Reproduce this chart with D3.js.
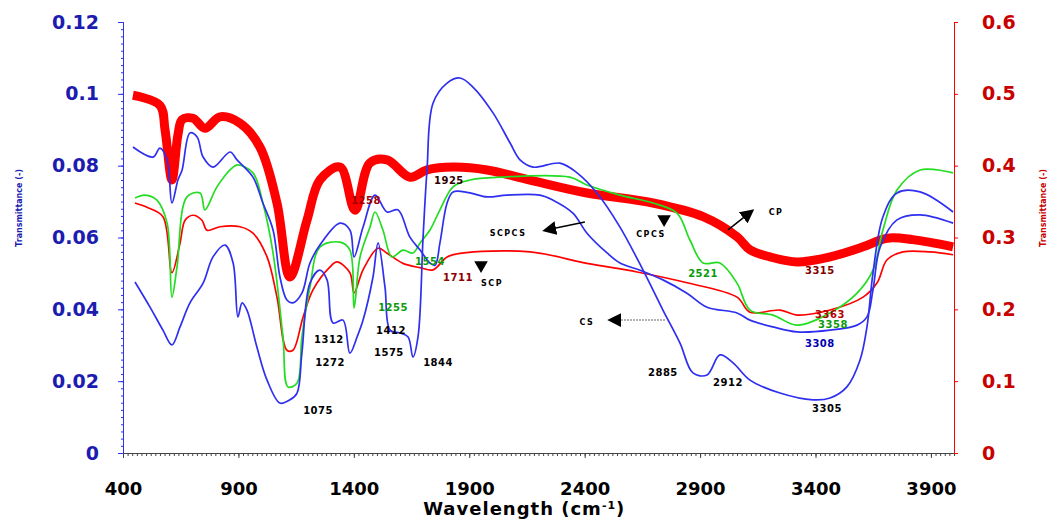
<!DOCTYPE html>
<html>
<head>
<meta charset="utf-8">
<script src="https://cdn.jsdelivr.net/npm/d3@7"></script>
<style>
  body { margin: 0; background: #fff; }
  text { font-family: "DejaVu Sans", "Liberation Sans", Arial, sans-serif; font-weight: bold; }
</style>
</head>
<body>
<div id="graph"></div>
<script>
const width = 1053;
const height = 520;
const margin = { top: 22, right: 99, bottom: 67, left: 123 };
const innerW = width - margin.left - margin.right;
const innerH = height - margin.top - margin.bottom;

// wavenumber ticks
const xTicks = [400, 900, 1400, 1900, 2400, 2900, 3400, 3900];
const leftTicks = [0, 0.02, 0.04, 0.06, 0.08, 0.1, 0.12];
const rightTicks = [0, 0.1, 0.2, 0.3, 0.4, 0.5, 0.6];

// thick red (CP) - right axis
const cp = [[443,0.498],[560,0.484],[582,0.450],[612,0.380],[638,0.443],[656,0.464],[703,0.466],[755,0.452],
  [820,0.468],[907,0.459],[993,0.426],[1067,0.348],[1123,0.245],[1197,0.324],[1253,0.380],[1340,0.398],
  [1405,0.338],[1470,0.404],[1544,0.408],[1643,0.384],[1717,0.394],[1830,0.398],[1977,0.394],[2163,0.380],
  [2410,0.362],[2696,0.348],[2913,0.329],[3060,0.301],[3116,0.283],[3203,0.273],[3320,0.266],[3463,0.273],
  [3606,0.287],[3710,0.299],[3822,0.297],[3996,0.287]];

// thin red (SCP) - right axis
const scp = [[452,0.348],[504,0.342],[573,0.329],[612,0.251],[647,0.292],[669,0.324],[703,0.331],[742,0.324],
  [764,0.310],[820,0.315],[907,0.315],[963,0.306],[1024,0.273],[1067,0.217],[1110,0.143],[1136,0.143],
  [1180,0.189],[1223,0.227],[1297,0.259],[1327,0.266],[1383,0.251],[1401,0.223],[1440,0.255],[1505,0.285],
  [1544,0.278],[1613,0.264],[1687,0.258],[1743,0.255],[1804,0.273],[1860,0.278],[2163,0.280],[2410,0.264],
  [2627,0.252],[2843,0.237],[3060,0.217],[3116,0.196],[3246,0.199],[3320,0.192],[3463,0.199],[3606,0.217],
  [3667,0.237],[3710,0.269],[3779,0.280],[3896,0.280],[3996,0.276]];

// green (CPCS) - left axis
const cpcs = [[452,0.0710],[495,0.0718],[547,0.0704],[591,0.0640],[612,0.0434],[634,0.0518],[677,0.0713],
  [734,0.0724],[755,0.0677],[807,0.0741],[877,0.0796],[898,0.0802],[963,0.0780],[1006,0.0696],[1050,0.0557],
  [1093,0.0323],[1115,0.0184],[1154,0.0195],[1175,0.0323],[1210,0.0462],[1253,0.0573],[1340,0.0587],
  [1383,0.0565],[1401,0.0404],[1427,0.0546],[1470,0.0629],[1492,0.0671],[1526,0.0621],[1565,0.0546],
  [1613,0.0565],[1656,0.0557],[1687,0.0585],[1730,0.0621],[1773,0.0677],[1830,0.0741],[1903,0.0760],
  [2033,0.0768],[2336,0.0768],[2410,0.0746],[2553,0.0718],[2696,0.0696],[2800,0.0668],[2856,0.0593],
  [2913,0.0529],[2986,0.0529],[3060,0.0473],[3116,0.0398],[3216,0.0384],[3320,0.0356],[3463,0.0390],
  [3580,0.0445],[3649,0.0509],[3692,0.0621],[3753,0.0732],[3853,0.0788],[3996,0.0780]];

// blue (SCPCS) - left axis
const scpcs = [[443,0.0852],[530,0.0824],[560,0.0849],[591,0.0816],[612,0.0696],[638,0.0760],[656,0.0788],
  [690,0.0891],[721,0.0880],[747,0.0824],[790,0.0796],[864,0.0838],[894,0.0816],[963,0.0768],[1006,0.0696],
  [1050,0.0621],[1080,0.0490],[1110,0.0426],[1136,0.0418],[1175,0.0445],[1210,0.0529],[1253,0.0579],
  [1340,0.0640],[1383,0.0621],[1401,0.0546],[1440,0.0629],[1492,0.0718],[1544,0.0671],[1591,0.0677],
  [1643,0.0601],[1687,0.0565],[1730,0.0529],[1752,0.0523],[1773,0.0585],[1804,0.0696],[1830,0.0727],
  [1903,0.0724],[1977,0.0713],[2063,0.0718],[2206,0.0718],[2263,0.0704],[2349,0.0668],[2410,0.0612],
  [2497,0.0557],[2553,0.0529],[2640,0.0509],[2739,0.0482],[2843,0.0445],[2930,0.0406],[3060,0.0390],
  [3116,0.0370],[3216,0.0351],[3320,0.0337],[3463,0.0342],[3580,0.0356],[3623,0.0379],[3649,0.0454],
  [3680,0.0573],[3753,0.0649],[3853,0.0663],[3996,0.0640]];

// blue (CS) - left axis
const cs = [[452,0.0476],[517,0.0406],[573,0.0342],[612,0.0301],[647,0.0351],[690,0.0418],[747,0.0473],
  [790,0.0546],[842,0.0579],[877,0.0529],[898,0.0379],[916,0.0418],[937,0.0398],[980,0.0295],[1024,0.0203],
  [1080,0.0139],[1123,0.0148],[1154,0.0167],[1175,0.0278],[1210,0.0473],[1253,0.0509],[1284,0.0482],
  [1310,0.0362],[1353,0.0370],[1383,0.0278],[1414,0.0323],[1440,0.0370],[1483,0.0490],[1505,0.0585],
  [1535,0.0462],[1557,0.0342],[1600,0.0334],[1635,0.0323],[1656,0.0267],[1678,0.0323],[1700,0.0601],
  [1717,0.0788],[1743,0.0974],[1804,0.1030],[1860,0.1044],[1916,0.1019],[2003,0.0947],[2077,0.0863],
  [2120,0.0816],[2176,0.0796],[2293,0.0807],[2367,0.0780],[2453,0.0724],[2553,0.0629],[2653,0.0509],
  [2739,0.0398],[2813,0.0306],[2869,0.0223],[2930,0.0217],[2986,0.0273],[3043,0.0251],[3116,0.0203],
  [3246,0.0167],[3389,0.0148],[3463,0.0153],[3536,0.0184],[3593,0.0259],[3623,0.0351],[3649,0.0501],
  [3692,0.0657],[3753,0.0724],[3853,0.0727],[3996,0.0671]];

// peak labels: [wavenumber, left-axis value, text, colour]
const peakLabels = [
  [1245,0.0117,"1075","#000"],[1292,0.0317,"1312","#000"],[1297,0.0253,"1272","#000"],
  [1561,0.0342,"1412","#000"],[1552,0.0281,"1575","#000"],[1765,0.0253,"1844","#000"],
  [1570,0.0404,"1255","#0a9a0a"],[1453,0.0704,"1258","#a00000"],[1730,0.0532,"1554","#0a9a0a"],
  [1812,0.0760,"1925","#300000"],[1851,0.0490,"1711","#900000"],[2913,0.0501,"2521","#0a9a0a"],
  [2739,0.0223,"2885","#000"],[3021,0.0195,"2912","#000"],[3419,0.0509,"3315","#800000"],
  [3463,0.0387,"3363","#b00000"],[3476,0.0359,"3358","#0a9a0a"],[3419,0.0306,"3308","#0000b0"],
  [3450,0.0125,"3305","#000"]];

// sample names
const sampleLabels = [[2068,0.0612,"SCPCS"],[2687,0.0610,"CPCS"],[3229,0.0671,"CP"],
  [1999,0.0473,"SCP"],[2410,0.0365,"CS"]];

// arrows: [x1, y1, x2, y2] in wavenumber / left-axis value
const arrows = [[2401,0.0643,2228,0.0620],[3021,0.0621,3125,0.0674]];
const csArrow = [2748,0.0370,2510,0.0370];
// down-pointing markers for SCP and CPCS
const pointers = [[1951,0.0523],[2744,0.0651]];

const svg = d3.select("#graph")
  .append("svg")
  .attr("width", width)
  .attr("height", height);
const g = svg.append("g")
  .attr("transform", `translate(${margin.left}, ${margin.top})`);

const x = d3.scaleLinear().domain([400, 4000]).range([0, innerW]);
const yL = d3.scaleLinear().domain([0, 0.12]).range([innerH, 0]);
const yR = d3.scaleLinear().domain([0, 0.6]).range([innerH, 0]);

const blue = "#2f2ff0", green = "#22dd22", red = "#ff0000";

// minor ticks
g.append("g")
  .attr("transform", `translate(0, ${innerH})`)
  .call(d3.axisBottom(x).tickValues(d3.range(400, 4001, 20)).tickSize(3).tickFormat(""))
  .call(a => a.select(".domain").attr("stroke", "#444"))
  .call(a => a.selectAll("line").attr("stroke", "#444"));
g.append("g")
  .call(d3.axisLeft(yL).tickValues(d3.range(0, 0.1201, 0.002)).tickSize(2).tickFormat(""))
  .call(a => a.selectAll("path,line").attr("stroke", blue));
g.append("g")
  .attr("transform", `translate(${innerW}, 0)`)
  .call(d3.axisRight(yR).tickValues(rightTicks).tickSize(4).tickFormat(""))
  .call(a => a.selectAll("path,line").attr("stroke", red));

// major axes
const xAxis = g.append("g")
  .attr("transform", `translate(0, ${innerH})`)
  .call(d3.axisBottom(x).tickValues(xTicks).tickSize(5).tickPadding(24).tickFormat(d3.format("d")));
xAxis.select(".domain").remove();
xAxis.selectAll("line").attr("stroke", "#444");
xAxis.selectAll("text").attr("fill", "#000").style("font-size", "18px");

const leftAxis = g.append("g")
  .call(d3.axisLeft(yL).tickValues(leftTicks).tickSize(5).tickPadding(19)
    .tickFormat(d => d === 0 ? "0" : String(+d.toFixed(2))));
leftAxis.selectAll("path,line").attr("stroke", blue);
leftAxis.selectAll("text").attr("fill", "#1c1cb0").style("font-size", "19px");

const rightAxis = g.append("g")
  .attr("transform", `translate(${innerW}, 0)`)
  .call(d3.axisRight(yR).tickValues(rightTicks).tickSize(0).tickPadding(28)
    .tickFormat(d => d === 0 ? "0" : String(+d.toFixed(1))));
rightAxis.select(".domain").remove();
rightAxis.selectAll("text").attr("fill", "#c80000").style("font-size", "19px");

// lines
const lineL = d3.line().x(d => x(d[0])).y(d => yL(d[1])).curve(d3.curveCatmullRom.alpha(0.5));
const lineR = d3.line().x(d => x(d[0])).y(d => yR(d[1])).curve(d3.curveCatmullRom.alpha(0.5));

g.append("path").datum(cp).attr("fill", "none").attr("stroke", red)
  .attr("stroke-width", 9).attr("stroke-linejoin", "round").attr("d", lineR);
g.append("path").datum(scp).attr("fill", "none").attr("stroke", red)
  .attr("stroke-width", 1.7).attr("d", lineR);
g.append("path").datum(cpcs).attr("fill", "none").attr("stroke", green)
  .attr("stroke-width", 1.7).attr("d", lineL);
g.append("path").datum(scpcs).attr("fill", "none").attr("stroke", blue)
  .attr("stroke-width", 1.7).attr("d", lineL);
g.append("path").datum(cs).attr("fill", "none").attr("stroke", blue)
  .attr("stroke-width", 1.7).attr("d", lineL);

// arrows
svg.append("defs").append("marker")
  .attr("id", "head")
  .attr("viewBox", "0 0 10 10")
  .attr("refX", 8).attr("refY", 5)
  .attr("markerWidth", 14).attr("markerHeight", 14)
  .attr("markerUnits", "userSpaceOnUse")
  .attr("orient", "auto")
  .append("path").attr("d", "M0,0L10,5L0,10z").attr("fill", "#000");

g.selectAll(".arrow").data(arrows).enter().append("line")
  .attr("class", "arrow")
  .attr("x1", d => x(d[0])).attr("y1", d => yL(d[1]))
  .attr("x2", d => x(d[2])).attr("y2", d => yL(d[3]))
  .attr("stroke", "#000").attr("stroke-width", 1.5)
  .attr("marker-end", "url(#head)");
g.append("line")
  .attr("x1", x(csArrow[0])).attr("y1", yL(csArrow[1]))
  .attr("x2", x(csArrow[2])).attr("y2", yL(csArrow[3]))
  .attr("stroke", "#999").attr("stroke-width", 1.5).attr("stroke-dasharray", "2,1")
  .attr("marker-end", "url(#head)");
g.selectAll(".pointer").data(pointers).enter().append("path")
  .attr("class", "pointer")
  .attr("transform", d => `translate(${x(d[0])}, ${yL(d[1])}) rotate(180)`)
  .attr("d", d3.symbol(d3.symbolTriangle, 80))
  .attr("fill", "#000");

// peak labels
g.selectAll(".peak").data(peakLabels).enter().append("text")
  .attr("class", "peak")
  .attr("x", d => x(d[0])).attr("y", d => yL(d[1]))
  .attr("text-anchor", "middle").attr("dy", "0.35em")
  .attr("fill", d => d[3])
  .style("font-size", "10px")
  .style("letter-spacing", "0.5px")
  .text(d => d[2]);

g.selectAll(".sample").data(sampleLabels).enter().append("text")
  .attr("class", "sample")
  .attr("x", d => x(d[0])).attr("y", d => yL(d[1]))
  .attr("text-anchor", "middle").attr("dy", "0.35em")
  .attr("fill", "#000")
  .style("font-size", "8px")
  .style("letter-spacing", "1.5px")
  .text(d => d[2]);

// axis titles
svg.append("text")
  .attr("x", margin.left + x(1900) + 55)
  .attr("y", 515)
  .attr("text-anchor", "middle")
  .style("font-size", "18px")
  .style("letter-spacing", "1px")
  .html("Wavelength (cm<tspan dy='-6' font-size='11px'>-1</tspan><tspan dy='6'>)</tspan>");
svg.append("text")
  .attr("transform", `translate(22, 208) rotate(-90)`)
  .attr("text-anchor", "middle")
  .attr("fill", "#1c1cb0")
  .style("font-size", "8px")
  .text("Transmittance (-)");
svg.append("text")
  .attr("transform", `translate(1046, 208) rotate(-90)`)
  .attr("text-anchor", "middle")
  .attr("fill", "#c80000")
  .style("font-size", "8px")
  .text("Transmittance (-)");
</script>
</body>
</html>
